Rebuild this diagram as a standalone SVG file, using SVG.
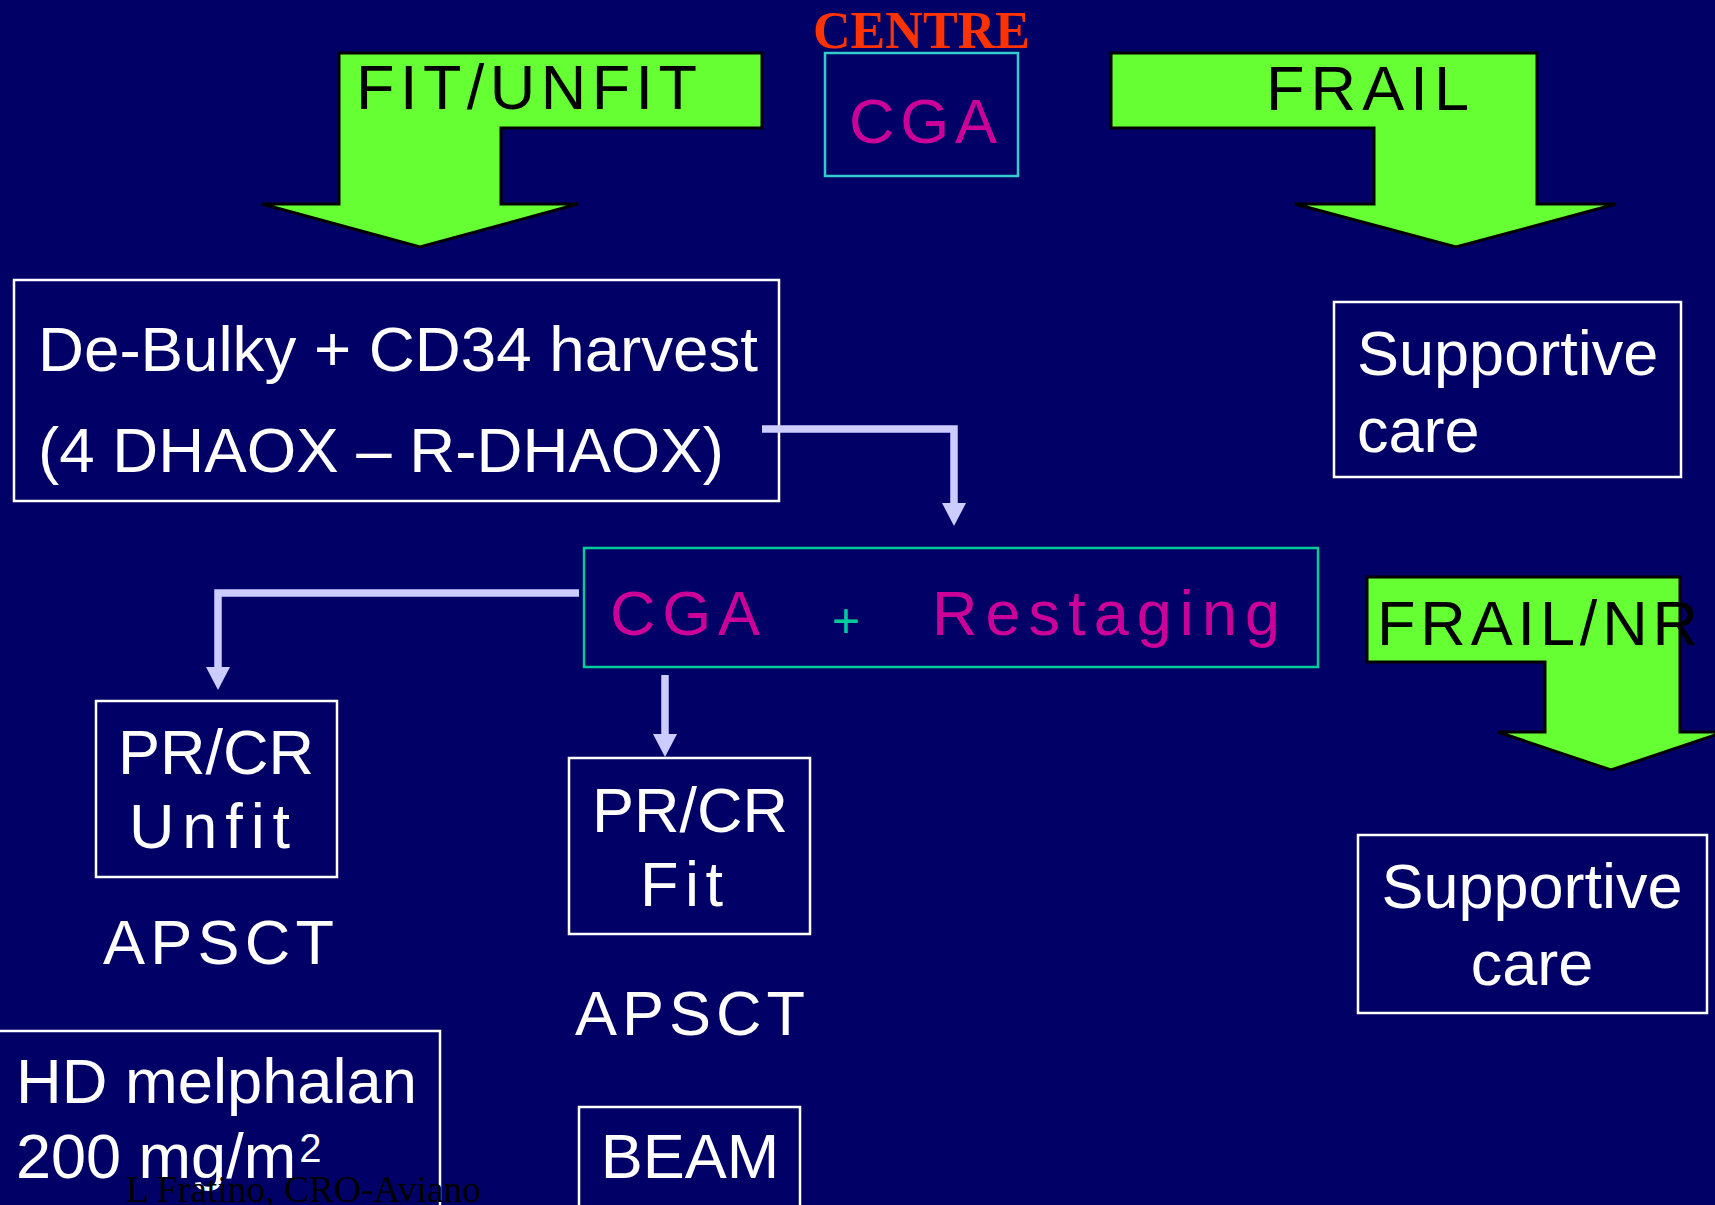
<svg xmlns="http://www.w3.org/2000/svg" width="1715" height="1205" viewBox="0 0 1715 1205">
<style>
.bg{fill:#000066}
.green{fill:#66FF33;stroke:#000;stroke-width:3;stroke-linejoin:miter}
.wbox{fill:none;stroke:#FFFFFF;stroke-width:2.5}
.tbox{fill:none;stroke:#00CC99;stroke-width:2.5}
.t{font-family:"Liberation Sans",Arial,sans-serif;font-size:63px}
.wh{fill:#FFFFFF}
.bk{fill:#000000}
.mg{fill:#CC0099}
.conn{fill:none;stroke:#CCCCFF;stroke-width:7.5}
</style>
<defs>
<marker id="ah" viewBox="0 0 23 24" refX="0" refY="12" markerWidth="23" markerHeight="24" orient="auto" markerUnits="userSpaceOnUse">
<path d="M0,0 L23,12 L0,24 z" fill="#CCCCFF"/>
</marker>
</defs>
<rect class="bg" x="0" y="0" width="1715" height="1205"/>

<g id="centre">
<text x="813" y="48" font-family="'Liberation Serif','Times New Roman',serif" font-weight="bold" font-size="52" fill="#FF3300" textLength="217" lengthAdjust="spacingAndGlyphs">CENTRE</text>
</g>

<g id="cga-top">
<rect x="825" y="53" width="193" height="123" fill="none" stroke="#33CCCC" stroke-width="2.5"/>
<text class="t mg" x="849" y="143" font-size="64" textLength="148" lengthAdjust="spacing">CGA</text>
</g>

<g id="fit-unfit-arrow">
<polygon class="green" points="339,53 762,53 762,128 501,128 501,204 578,204 420,247 262,204 339,204"/>
<text class="t bk" x="356" y="109" textLength="341" lengthAdjust="spacing">FIT/UNFIT</text>
</g>

<g id="frail-arrow">
<polygon class="green" points="1111,53 1537,53 1537,204 1616,204 1456,247 1295,204 1374,204 1374,128 1111,128"/>
<text class="t bk" x="1266" y="110" textLength="203" lengthAdjust="spacing">FRAIL</text>
</g>

<g id="debulky">
<rect class="wbox" x="14" y="280" width="765" height="221"/>
<text class="t wh" x="38" y="371" textLength="720" lengthAdjust="spacingAndGlyphs">De-Bulky + CD34 harvest</text>
<text class="t wh" x="38" y="472" textLength="686" lengthAdjust="spacingAndGlyphs">(4 DHAOX – R-DHAOX)</text>
</g>

<g id="supportive-1">
<rect class="wbox" x="1334" y="302" width="347" height="175"/>
<text class="t wh" x="1357" y="375" font-size="64">Supportive</text>
<text class="t wh" x="1357" y="452" font-size="64">care</text>
</g>

<g id="cga-restaging">
<rect class="tbox" x="584" y="548" width="734" height="119"/>
<text class="t mg" x="610" y="635" font-size="64" textLength="150" lengthAdjust="spacing">CGA</text>
<text x="846" y="637" font-family="'Liberation Sans',Arial,sans-serif" font-size="48" fill="#00CC99" text-anchor="middle">+</text>
<text class="t mg" x="932" y="635" font-size="64" textLength="348" lengthAdjust="spacing">Restaging</text>
</g>

<g id="frail-nr-arrow">
<polygon class="green" points="1367,577 1680,577 1680,732 1724,732 1611,770 1498,732 1545,732 1545,662 1367,662"/>
<text class="t bk" x="1377" y="645" textLength="321" lengthAdjust="spacing">FRAIL/NR</text>
</g>

<g id="supportive-2">
<rect class="wbox" x="1358" y="835" width="349" height="178"/>
<text class="t wh" x="1532" y="908" font-size="64" text-anchor="middle">Supportive</text>
<text class="t wh" x="1532" y="985" font-size="64" text-anchor="middle">care</text>
</g>

<g id="prcr-unfit">
<rect class="wbox" x="96" y="701" width="241" height="176"/>
<text class="t wh" x="216" y="774" text-anchor="middle">PR/CR</text>
<text class="t wh" x="129" y="848" textLength="161" lengthAdjust="spacing">Unfit</text>
</g>

<g id="apsct-left">
<text class="t wh" x="103" y="964" textLength="231" lengthAdjust="spacing">APSCT</text>
</g>

<g id="prcr-fit">
<rect class="wbox" x="569" y="758" width="241" height="176"/>
<text class="t wh" x="690" y="832" text-anchor="middle">PR/CR</text>
<text class="t wh" x="640" y="906" textLength="83" lengthAdjust="spacing">Fit</text>
</g>

<g id="apsct-mid">
<text class="t wh" x="575" y="1035" textLength="230" lengthAdjust="spacing">APSCT</text>
</g>

<g id="hd-melphalan">
<rect class="wbox" x="-3" y="1031" width="443" height="200"/>
<text class="t wh" x="16" y="1103" textLength="401" lengthAdjust="spacingAndGlyphs">HD melphalan</text>
<text class="t wh" x="16" y="1178">200 mg/m<tspan font-size="40" dx="3" dy="-16">2</tspan></text>
</g>

<g id="beam">
<rect class="wbox" x="579" y="1107" width="221" height="120"/>
<text class="t wh" x="690" y="1178" text-anchor="middle">BEAM</text>
</g>

<g id="connectors">
<path class="conn" d="M762,429 H954 V503" marker-end="url(#ah)"/>
<path class="conn" d="M579,593 H218 V667" marker-end="url(#ah)"/>
<path class="conn" d="M665,675 V734" marker-end="url(#ah)"/>
</g>

<g id="footer">
<text x="126" y="1202" font-family="'Liberation Serif','Times New Roman',serif" font-size="37" fill="#000000" textLength="355" lengthAdjust="spacingAndGlyphs">L Fratino, CRO-Aviano</text>
</g>
</svg>
